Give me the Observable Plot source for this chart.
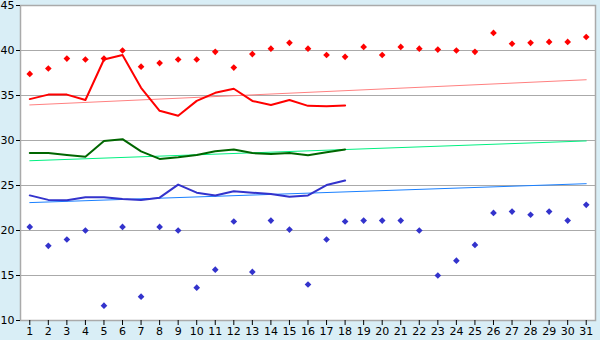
<!DOCTYPE html>
<html>
<head>
<meta charset="utf-8">
<script src="https://cdn.jsdelivr.net/npm/d3@7"></script>
<script src="https://cdn.jsdelivr.net/npm/@observablehq/plot@0.6"></script>
<style>
  html, body { margin: 0; padding: 0; background: #d9eef6; }
  #chart { width: 600px; height: 340px; }
</style>
</head>
<body>
<div id="chart"></div>
<script>
const days = d3.range(1, 32);
const lineDays = d3.range(1, 19);
const maxPoints = [37.4, 38.0, 39.1, 39.0, 39.1, 40.0, 38.2, 38.6, 39.0, 39.0, 39.85, 38.1, 39.6, 40.2, 40.85, 40.2, 39.5, 39.3, 40.4, 39.5, 40.4, 40.2, 40.1, 40.0, 39.85, 41.95, 40.75, 40.85, 40.95, 40.95, 41.5];
const minPoints = [20.4, 18.3, 19.0, 20.0, 11.65, 20.4, 12.65, 20.4, 20.0, 13.65, 15.65, 21.0, 15.4, 21.1, 20.1, 14.0, 19.0, 21.0, 21.1, 21.1, 21.1, 20.0, 15.0, 16.65, 18.4, 21.95, 22.1, 21.75, 22.1, 21.1, 22.85];
const redLine = [34.6, 35.1, 35.1, 34.5, 39.0, 39.5, 35.85, 33.3, 32.75, 34.4, 35.3, 35.75, 34.4, 33.95, 34.5, 33.85, 33.8, 33.9];
const greenLine = [28.6, 28.6, 28.4, 28.2, 29.95, 30.15, 28.8, 27.95, 28.15, 28.4, 28.8, 29.0, 28.6, 28.5, 28.6, 28.35, 28.7, 29.0];
const blueLine = [23.9, 23.4, 23.35, 23.7, 23.7, 23.5, 23.4, 23.65, 25.1, 24.2, 23.9, 24.35, 24.2, 24.05, 23.75, 23.9, 25.05, 25.55];
const trendDays = [1, 31];
const redTrend = [33.95, 36.75];
const greenTrend = [27.75, 29.95];
const blueTrend = [23.1, 25.2];
const yTicks = [10, 15, 20, 25, 30, 35, 40, 45];

const pts = (xs, ys) => xs.map((x, i) => ({x, y: ys[i]}));

const chart = Plot.plot({
  width: 600,
  height: 340,
  marginLeft: 20,
  marginRight: 5,
  marginTop: 5,
  marginBottom: 20,
  style: {background: "#d9eef6", fontFamily: "DejaVu Sans, Verdana, sans-serif", fontSize: "11px", color: "#000"},
  x: {domain: [0.5, 31.5], axis: null},
  y: {domain: [10, 45], axis: null},
  marks: [
    Plot.frame({fill: "white", stroke: null}),
    Plot.ruleY(yTicks, {stroke: "#aaaaaa", strokeWidth: 1}),
    Plot.frame({stroke: "#aaaaaa", strokeWidth: 1.5}),
    Plot.axisY({ticks: yTicks, label: null, tickSize: 4, tickPadding: 2, stroke: "#000", fill: "#000", fontSize: 11}),
    Plot.axisX({ticks: days, label: null, tickSize: 5, tickPadding: 2, tickFormat: d => String(d), stroke: "#000", fill: "#000", fontSize: 11}),
    Plot.line(pts(trendDays, redTrend), {x: "x", y: "y", stroke: "#ff8080", strokeWidth: 1}),
    Plot.line(pts(trendDays, greenTrend), {x: "x", y: "y", stroke: "#00f080", strokeWidth: 1}),
    Plot.line(pts(trendDays, blueTrend), {x: "x", y: "y", stroke: "#1a80ff", strokeWidth: 1}),
    Plot.line(pts(lineDays, redLine), {x: "x", y: "y", stroke: "#ff0000", strokeWidth: 2}),
    Plot.line(pts(lineDays, greenLine), {x: "x", y: "y", stroke: "#006600", strokeWidth: 2}),
    Plot.line(pts(lineDays, blueLine), {x: "x", y: "y", stroke: "#3333cc", strokeWidth: 2}),
    Plot.dot(pts(days, maxPoints), {x: "x", y: "y", symbol: "diamond2", r: 3, fill: "#ff0000", stroke: null}),
    Plot.dot(pts(days, minPoints), {x: "x", y: "y", symbol: "diamond2", r: 3, fill: "#3333cc", stroke: null})
  ]
});
document.getElementById("chart").appendChild(chart);
</script>
</body>
</html>
